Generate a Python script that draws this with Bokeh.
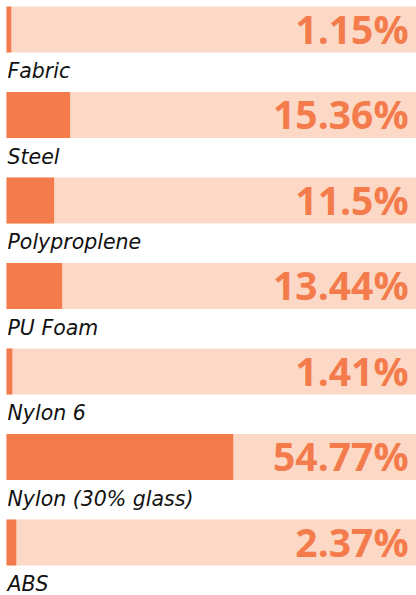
from bokeh.plotting import figure
from bokeh.models import Range1d, ColumnDataSource
from bokeh.core.properties import value
from bokeh.embed import file_html
from bokeh.resources import INLINE

materials = ["Fabric", "Steel", "Polyproplene", "PU Foam", "Nylon 6", "Nylon (30% glass)", "ABS"]
shares = [1.15, 15.36, 11.5, 13.44, 1.41, 54.77, 2.37]
share_labels = ["1.15%", "15.36%", "11.5%", "13.44%", "1.41%", "54.77%", "2.37%"]

rows = list(range(len(materials)))
src = ColumnDataSource(dict(
    y=rows,
    ylab=[r + 0.49 for r in rows],
    share=shares,
    full=[100] * len(rows),
    lab=share_labels,
    name=materials,
))

p = figure(width=416, height=595, output_backend="svg", toolbar_location=None,
           x_range=Range1d(-1.45, 99.03), y_range=Range1d(6.62, -0.339),
           min_border=0, outline_line_color=None, background_fill_color="white",
           border_fill_color="white")
p.axis.visible = False
p.grid.visible = False

p.hbar(y="y", left=0, right="full", height=0.538, source=src,
       fill_color="#FCD9C6", line_color=None)
p.hbar(y="y", left=0, right="share", height=0.538, source=src,
       fill_color="#F47C4C", line_color=None)
p.text(x="full", y="y", text="lab", source=src, text_align="right",
       text_baseline="middle", x_offset=-12, y_offset=-1,
       text_font=value("Open Sans"), text_font_style="bold",
       text_font_size="39px", text_color="#F47C4C")
p.text(x=0, y="ylab", text="name", source=src, text_align="left",
       text_baseline="middle", x_offset=1, text_font=value("DejaVu Sans"),
       text_font_style="italic", text_font_size="20.5px", text_color="#111111")

open("out.html", "w").write(file_html(p, INLINE))
